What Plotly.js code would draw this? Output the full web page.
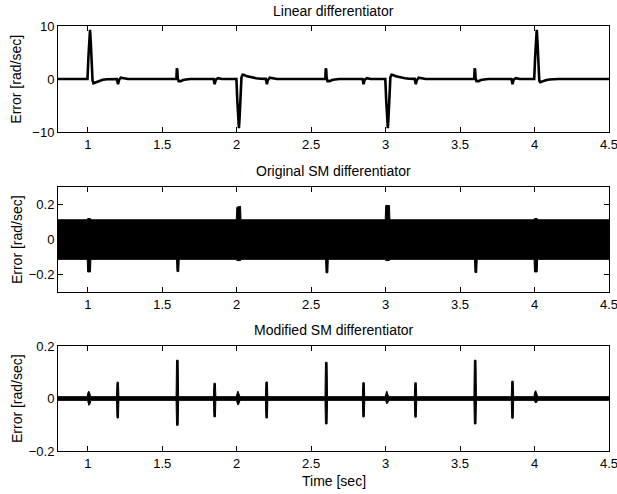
<!DOCTYPE html>
<html>
<head>
<meta charset="utf-8">
<script src="https://cdn.plot.ly/plotly-3.0.1.min.js"></script>
<style>
  html, body { margin: 0; padding: 0; background: #fff; }
  #chart { width: 617px; height: 494px; }
</style>
</head>
<body>
<div id="chart"></div>
<script>
// ---------- Data ----------
const xTicks = [1, 1.5, 2, 2.5, 3, 3.5, 4, 4.5];

// Linear differentiator error [rad/sec]
const linT = [
  0.8, 0.998,
  1.004, 1.010, 1.015, 1.020, 1.026, 1.032, 1.038, 1.048, 1.06, 1.08, 1.1, 1.13, 1.16,
  1.195, 1.203, 1.21, 1.222, 1.235, 1.25, 1.27,
  1.595, 1.598, 1.601, 1.604, 1.61, 1.625, 1.64, 1.66, 1.69,
  1.845, 1.852, 1.86, 1.875, 1.9,
  1.998, 2.004, 2.010, 2.015, 2.020, 2.026, 2.032, 2.04, 2.05, 2.07, 2.1, 2.13, 2.16,
  2.195, 2.203, 2.21, 2.222, 2.235, 2.25, 2.27,
  2.595, 2.598, 2.601, 2.604, 2.61, 2.625, 2.64, 2.66, 2.69,
  2.845, 2.852, 2.86, 2.875, 2.9,
  2.998, 3.004, 3.010, 3.015, 3.020, 3.026, 3.032, 3.04, 3.05, 3.07, 3.1, 3.13, 3.16,
  3.195, 3.203, 3.21, 3.222, 3.235, 3.25, 3.27,
  3.595, 3.598, 3.601, 3.604, 3.61, 3.625, 3.64, 3.66, 3.69,
  3.845, 3.852, 3.86, 3.875, 3.9,
  3.998, 4.004, 4.010, 4.015, 4.020, 4.026, 4.032, 4.038, 4.048, 4.06, 4.08, 4.1, 4.13, 4.16,
  4.5
];
const linErr = [
  0, 0,
  4.0, 8.5, 9.3, 7.0, 2.0, -0.3, -0.8, -0.7, -0.5, -0.3, -0.15, -0.05, 0,
  0, -1.0, -0.2, 0.25, 0.2, 0.05, 0,
  0, 2.0, 1.8, 0.2, -0.4, -0.4, -0.2, -0.1, 0,
  0, -1.0, -0.1, 0.15, 0,
  0, -4.0, -8.5, -9.3, -7.0, -2.0, 0.3, 0.8, 0.75, 0.5, 0.3, 0.15, 0.05,
  0.02, -1.0, -0.2, 0.25, 0.2, 0.05, 0,
  0, 2.0, 1.8, 0.2, -0.4, -0.4, -0.2, -0.1, 0,
  0, -1.0, -0.1, 0.15, 0,
  0, -4.0, -8.5, -9.3, -7.0, -2.0, 0.3, 0.8, 0.75, 0.5, 0.3, 0.15, 0.05,
  0.02, -1.0, -0.2, 0.25, 0.2, 0.05, 0,
  0, 2.0, 1.8, 0.2, -0.4, -0.4, -0.2, -0.1, 0,
  0, -1.0, -0.1, 0.15, 0,
  0, 4.0, 8.5, 9.3, 7.0, 2.0, -0.3, -0.6, -0.5, -0.35, -0.2, -0.1, -0.05, 0,
  0
];

// Original SM differentiator: envelope of the chattering band [rad/sec]
const smT = [
  0.8, 0.996, 0.999, 1.018, 1.021,
  1.596, 1.599, 1.611, 1.614,
  1.997, 2.001, 2.026, 2.029,
  2.597, 2.600, 2.612, 2.615,
  2.997, 3.001, 3.026, 3.029,
  3.597, 3.600, 3.612, 3.615,
  3.997, 4.000, 4.018, 4.021,
  4.5
];
const smUpper = [
  0.113, 0.113, 0.12, 0.12, 0.113,
  0.113, 0.113, 0.113, 0.113,
  0.113, 0.185, 0.19, 0.113,
  0.113, 0.113, 0.113, 0.113,
  0.113, 0.195, 0.195, 0.113,
  0.113, 0.113, 0.113, 0.113,
  0.113, 0.12, 0.12, 0.113,
  0.113
];
const smLower = [
  -0.113, -0.113, -0.185, -0.185, -0.113,
  -0.113, -0.183, -0.183, -0.113,
  -0.113, -0.12, -0.12, -0.113,
  -0.113, -0.19, -0.19, -0.113,
  -0.113, -0.12, -0.12, -0.113,
  -0.113, -0.188, -0.188, -0.113,
  -0.113, -0.185, -0.185, -0.113,
  -0.113
];

// Modified SM differentiator: envelope of the error trace [rad/sec]
const modT = [
  0.8,
  0.996, 1.001, 1.007, 1.014, 1.020,
  1.193, 1.196, 1.206, 1.209,
  1.593, 1.596, 1.607, 1.610,
  1.844, 1.847, 1.857, 1.860,
  1.996, 2.001, 2.008, 2.015, 2.022,
  2.193, 2.196, 2.206, 2.209,
  2.593, 2.596, 2.607, 2.610,
  2.844, 2.847, 2.857, 2.860,
  2.996, 3.001, 3.008, 3.015, 3.022,
  3.193, 3.196, 3.206, 3.209,
  3.593, 3.596, 3.607, 3.610,
  3.844, 3.847, 3.857, 3.860,
  3.996, 4.001, 4.008, 4.015, 4.022,
  4.5
];
const modUpper = [
  0.007,
  0.007, 0.022, 0.028, 0.018, 0.007,
  0.007, 0.062, 0.062, 0.007,
  0.007, 0.146, 0.146, 0.007,
  0.007, 0.058, 0.058, 0.007,
  0.007, 0.022, 0.028, 0.018, 0.007,
  0.007, 0.063, 0.063, 0.007,
  0.007, 0.138, 0.138, 0.007,
  0.007, 0.060, 0.060, 0.007,
  0.007, 0.022, 0.028, 0.016, 0.007,
  0.007, 0.060, 0.060, 0.007,
  0.007, 0.146, 0.146, 0.007,
  0.007, 0.066, 0.066, 0.007,
  0.007, 0.024, 0.030, 0.018, 0.007,
  0.007
];
const modLower = [
  -0.007,
  -0.007, -0.012, -0.026, -0.022, -0.007,
  -0.007, -0.074, -0.074, -0.007,
  -0.007, -0.102, -0.102, -0.007,
  -0.007, -0.070, -0.070, -0.007,
  -0.007, -0.012, -0.025, -0.020, -0.007,
  -0.007, -0.074, -0.074, -0.007,
  -0.007, -0.097, -0.097, -0.007,
  -0.007, -0.070, -0.070, -0.007,
  -0.007, -0.010, -0.020, -0.016, -0.007,
  -0.007, -0.071, -0.071, -0.007,
  -0.007, -0.097, -0.097, -0.007,
  -0.007, -0.075, -0.075, -0.007,
  -0.007, -0.010, -0.017, -0.014, -0.007,
  -0.007
];

const titles = ["Linear differentiator", "Original SM differentiator", "Modified SM differentiator"];
const yLabel = "Error [rad/sec]";
const xLabel = "Time [sec]";

// ---------- Traces ----------
const traces = [
  { x: linT, y: linErr, xaxis: "x", yaxis: "y", mode: "lines",
    line: { color: "#000", width: 2.6 }, hoverinfo: "skip" },
  { x: smT, y: smUpper, xaxis: "x2", yaxis: "y2", mode: "lines",
    line: { color: "#000", width: 1 }, hoverinfo: "skip" },
  { x: smT, y: smLower, xaxis: "x2", yaxis: "y2", mode: "lines", fill: "tonexty",
    fillcolor: "#000", line: { color: "#000", width: 1 }, hoverinfo: "skip" },
  { x: modT, y: modUpper, xaxis: "x3", yaxis: "y3", mode: "lines",
    line: { color: "#000", width: 1 }, hoverinfo: "skip" },
  { x: modT, y: modLower, xaxis: "x3", yaxis: "y3", mode: "lines", fill: "tonexty",
    fillcolor: "#000", line: { color: "#000", width: 1 }, hoverinfo: "skip" }
];

const FONT = "Liberation Sans, Arial, Helvetica, sans-serif";
function xAx(anchor) {
  return {
    anchor: anchor, domain: [0, 1], range: [0.8, 4.5002],
    tickvals: xTicks, ticks: "inside", ticklen: 5, tickwidth: 1, tickcolor: "#000",
    showline: true, linecolor: "#000", linewidth: 1, mirror: "ticks",
    showgrid: false, zeroline: false, ticklabeloverflow: "allow",
    tickfont: { family: FONT, size: 13, color: "#000" }
  };
}
function yAx(anchor, domain, range, tickvals) {
  return {
    anchor: anchor, domain: domain, range: range, tickvals: tickvals,
    ticks: "inside", ticklen: 5, tickwidth: 1, tickcolor: "#000",
    showline: true, linecolor: "#000", linewidth: 1, mirror: "ticks",
    showgrid: false, zeroline: false,
    tickfont: { family: FONT, size: 13, color: "#000" }
  };
}

const titleFont = { family: FONT, size: 14, color: "#000" };
const labelFont = { family: FONT, size: 14, color: "#000" };

const layout = {
  width: 617, height: 494,
  margin: { l: 58, r: 8, t: 26, b: 43 },
  paper_bgcolor: "#fff", plot_bgcolor: "#fff",
  showlegend: false,
  xaxis: xAx("y"),
  xaxis2: xAx("y2"),
  xaxis3: xAx("y3"),
  yaxis: yAx("x", [0.7506, 1], [-10, 10], [-10, 0, 10]),
  yaxis2: yAx("x2", [0.374, 0.621], [-0.3, 0.3], [-0.2, 0, 0.2]),
  yaxis3: yAx("x3", [0, 0.247], [-0.2, 0.2], [-0.2, 0, 0.2]),
  annotations: [
    { text: titles[0], xref: "paper", yref: "paper", x: 0.5, y: 1.035, xanchor: "center", yanchor: "middle", showarrow: false, font: titleFont },
    { text: titles[1], xref: "paper", yref: "paper", x: 0.5, y: 0.659, xanchor: "center", yanchor: "middle", showarrow: false, font: titleFont },
    { text: titles[2], xref: "paper", yref: "paper", x: 0.5, y: 0.285, xanchor: "center", yanchor: "middle", showarrow: false, font: titleFont },
    { text: xLabel, xref: "paper", yref: "paper", x: 0.5, y: -0.0706, xanchor: "center", yanchor: "middle", showarrow: false, font: titleFont },
    { text: yLabel, xref: "paper", yref: "paper", x: -0.0753, y: 0.875, xanchor: "center", yanchor: "middle", textangle: -90, showarrow: false, font: labelFont },
    { text: yLabel, xref: "paper", yref: "paper", x: -0.0753, y: 0.4975, xanchor: "center", yanchor: "middle", textangle: -90, showarrow: false, font: labelFont },
    { text: yLabel, xref: "paper", yref: "paper", x: -0.0753, y: 0.1235, xanchor: "center", yanchor: "middle", textangle: -90, showarrow: false, font: labelFont }
  ]
};

Plotly.newPlot("chart", traces, layout, { displayModeBar: false, staticPlot: true });
</script>
</body>
</html>
